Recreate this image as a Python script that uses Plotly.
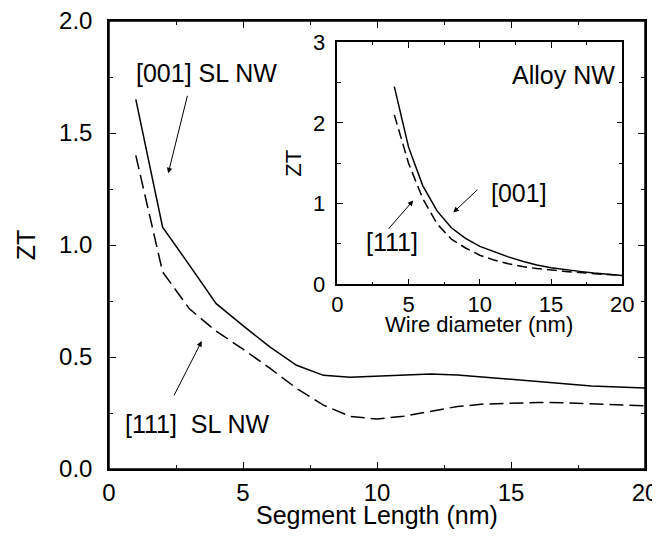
import plotly.graph_objects as go

# ---- main panel data (segment length vs ZT) ----
seg_len = [1, 2, 3, 4, 5, 6, 7, 8, 9, 10, 11, 12, 13, 14, 15, 16, 17, 18, 19, 20]
zt_001_sl = [1.65, 1.08, 0.91, 0.738, 0.64, 0.545, 0.463, 0.418, 0.41, 0.415,
             0.421, 0.424, 0.42, 0.41, 0.40, 0.389, 0.379, 0.371, 0.366, 0.362]
zt_111_sl = [1.40, 0.88, 0.715, 0.615, 0.535, 0.45, 0.36, 0.285, 0.235, 0.223,
             0.236, 0.258, 0.279, 0.29, 0.295, 0.297, 0.296, 0.291, 0.286, 0.282]

# ---- inset data (wire diameter vs ZT, alloy NW) ----
diam = [4, 5, 6, 7, 8, 9, 10, 11, 12, 13, 14, 15, 16, 17, 18, 19, 20]
zt_001_alloy = [2.45, 1.70, 1.22, 0.91, 0.70, 0.57, 0.47, 0.40, 0.34, 0.285,
                0.24, 0.205, 0.18, 0.16, 0.14, 0.125, 0.11]
zt_111_alloy = [2.10, 1.50, 1.06, 0.75, 0.56, 0.45, 0.36, 0.30, 0.255, 0.22,
                0.195, 0.175, 0.16, 0.145, 0.13, 0.12, 0.11]

FONT = "Liberation Sans, Arial, Helvetica, sans-serif"
X_MAIN = [0, 20]
Y_MAIN = [0, 2.0]
X_INSET = [0, 20]
Y_INSET = [0, 3]
INSET_XDOM = [0.426, 0.9576]
INSET_YDOM = [0.4123, 0.9525]

fig = go.Figure()
fig.add_trace(go.Scatter(x=seg_len, y=zt_001_sl, mode="lines",
                         line=dict(color="black", width=1.5), showlegend=False))
fig.add_trace(go.Scatter(x=seg_len, y=zt_111_sl, mode="lines",
                         line=dict(color="black", width=1.5, dash="14px,6px"), showlegend=False))
fig.add_trace(go.Scatter(x=diam, y=zt_001_alloy, mode="lines", xaxis="x2", yaxis="y2",
                         line=dict(color="black", width=1.5), showlegend=False))
fig.add_trace(go.Scatter(x=diam, y=zt_111_alloy, mode="lines", xaxis="x2", yaxis="y2",
                         line=dict(color="black", width=1.5, dash="10px,5px"), showlegend=False))
# empty traces that carry the mirrored (top / right) tick axes
fig.add_trace(go.Scatter(x=[None], y=[None], xaxis="x3", yaxis="y3", showlegend=False,
                         hoverinfo="skip"))
fig.add_trace(go.Scatter(x=[None], y=[None], xaxis="x4", yaxis="y4", showlegend=False,
                         hoverinfo="skip"))

axis_common = dict(showgrid=False, zeroline=False, showline=True, linecolor="black",
                   linewidth=1.5, ticks="inside", tickcolor="black",
                   tickwidth=1.2, automargin=False, ticklabeloverflow="allow")

def mirror_axis(rng, dtick, mdtick, tl, mtl, **kw):
    d = dict(axis_common)
    d.update(range=rng, dtick=dtick, tick0=0, ticklen=tl, showticklabels=False,
             minor=dict(dtick=mdtick, tick0=0, ticklen=mtl, ticks="inside", tickcolor="black"))
    d.update(kw)
    return d

# the page body adds an 8px offset, so the figure is sized 652x532
fig.update_layout(
    width=652, height=532,
    margin=dict(l=101, r=15, t=13, b=71),
    paper_bgcolor="white", plot_bgcolor="white",
    font=dict(family=FONT, color="black"),
    xaxis=dict(range=X_MAIN, dtick=5, tick0=0, ticklen=7,
               minor=dict(dtick=2.5, tick0=0, ticklen=4, ticks="inside", tickcolor="black"),
               tickfont=dict(size=24), ticklabelstandoff=1,
               **axis_common),
    yaxis=dict(range=Y_MAIN, dtick=0.5, tick0=0, ticklen=7, tickformat=".1f",
               minor=dict(dtick=0.25, tick0=0, ticklen=4, ticks="inside", tickcolor="black"),
               tickfont=dict(size=24), ticklabelstandoff=10,
               title=dict(text="ZT", font=dict(size=25), standoff=16),
               **axis_common),
    xaxis2=dict(domain=INSET_XDOM, anchor="y2", range=X_INSET, dtick=5, tick0=0,
                ticklen=6,
                minor=dict(dtick=2.5, tick0=0, ticklen=3, ticks="inside", tickcolor="black"),
                tickfont=dict(size=22),
                **axis_common),
    yaxis2=dict(domain=INSET_YDOM, anchor="x2", range=Y_INSET, dtick=1, tick0=0,
                ticklen=6,
                minor=dict(dtick=0.5, tick0=0, ticklen=4, ticks="inside", tickcolor="black"),
                tickfont=dict(size=22), ticklabelstandoff=6,
                title=dict(text="ZT", font=dict(size=22), standoff=5),
                **axis_common),
    xaxis3=mirror_axis(X_MAIN, 5, 2.5, 7, 4, overlaying="x", side="top", anchor="y"),
    yaxis3=mirror_axis(Y_MAIN, 0.5, 0.25, 7, 4, overlaying="y", side="right", anchor="x"),
    xaxis4=mirror_axis(X_INSET, 5, 2.5, 6, 3, overlaying="x2", side="top", anchor="y2"),
    yaxis4=mirror_axis(Y_INSET, 1, 0.5, 6, 4, overlaying="y2", side="right", anchor="x2"),
)

# explicit frame around the main plot area
fig.add_shape(type="rect", xref="paper", yref="paper", x0=0, y0=0, x1=1, y1=1,
              line=dict(color="black", width=1.5), layer="above")

# x-axis titles placed as paper annotations
fig.add_annotation(x=0.5, y=-0.103, xref="paper", yref="paper", text="Segment Length (nm)",
                   showarrow=False, xanchor="center", yanchor="middle",
                   font=dict(size=25, family=FONT))
fig.add_annotation(x=0.690, y=0.322, xref="paper", yref="paper", text="Wire diameter (nm)",
                   showarrow=False, xanchor="center", yanchor="middle",
                   font=dict(size=22, family=FONT))

def arrow(xh, yh, xt, yt, xr="x", yr="y"):
    fig.add_annotation(x=xh, y=yh, ax=xt, ay=yt, xref=xr, yref=yr, axref=xr, ayref=yr,
                       text="", showarrow=True, arrowhead=2, arrowsize=1.1,
                       arrowwidth=1, arrowcolor="black")

def label(x, y, text, size, xr="x", yr="y", xanchor="center"):
    fig.add_annotation(x=x, y=y, xref=xr, yref=yr, text=text, showarrow=False,
                       xanchor=xanchor, yanchor="middle", font=dict(size=size, family=FONT))

# main panel labels and arrows
label(3.64, 1.768, "[001] SL NW", 25)
arrow(2.21, 1.32, 2.94, 1.673)
label(3.28, 0.199, "[111]\u00a0 SL NW", 25)
arrow(3.46, 0.571, 2.40, 0.322)

# inset labels and arrows
label(19.6, 2.59, "Alloy NW", 25, "x2", "y2", xanchor="right")
label(12.74, 1.13, "[001]", 25, "x2", "y2")
arrow(8.14, 0.89, 9.94, 1.19, "x2", "y2")
label(3.82, 0.53, "[111]", 25, "x2", "y2")
arrow(5.33, 1.04, 3.51, 0.67, "x2", "y2")

fig.write_html("out.html")
